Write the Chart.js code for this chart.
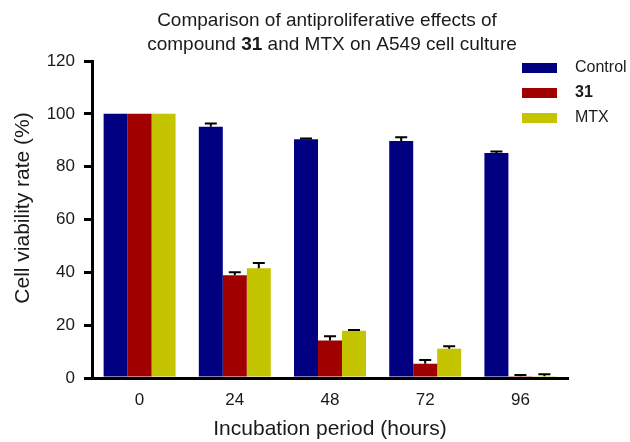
<!DOCTYPE html>
<html>
<head>
<meta charset="utf-8">
<script src="https://cdn.jsdelivr.net/npm/chart.js@4"></script>
<style>
  html, body { margin: 0; padding: 0; background: #fff; }
  #wrap { width: 630px; height: 442px; }
</style>
</head>
<body>
<div id="wrap"><canvas id="viabilityChart" width="630" height="442"></canvas></div>
<script>
// incubation times (hours)
const hours = ['0', '24', '48', '72', '96'];
// cell viability (%) and upper error (SD)
const control = [100, 95.1, 90.4, 89.7, 85.2];
const controlErr = [0, 1.2, 0.3, 1.4, 0.5];
const cmp31 = [100, 38.9, 14.2, 5.4, 0.7];
const cmp31Err = [0, 1.1, 1.6, 1.4, 0.4];
const mtx = [100, 41.5, 17.9, 11.1, 0.7];
const mtxErr = [0, 2.0, 0.3, 0.9, 0.7];
const yTicks = [0, 20, 40, 60, 80, 100, 120];

const FONT = 'Liberation Sans, Arial, sans-serif';
const textColor = '#1a1a1a';

// title + legend with bold "31", y-axis title, and the error bars
const extras = {
    id: 'extras',
    afterDatasetsDraw(chart) {
        const ctx = chart.ctx;
        const yScale = chart.scales.y;
        ctx.save();
        ctx.strokeStyle = '#000';
        ctx.lineWidth = 2;
        chart.data.datasets.forEach((ds, i) => {
            const meta = chart.getDatasetMeta(i);
            meta.data.forEach((bar, j) => {
                const err = ds.errors[j];
                if (!err) return;
                const yTop = yScale.getPixelForValue(ds.data[j] + err);
                const yVal = yScale.getPixelForValue(ds.data[j]);
                ctx.beginPath();
                ctx.moveTo(bar.x, yVal);
                ctx.lineTo(bar.x, yTop);
                ctx.moveTo(bar.x - 6, yTop);
                ctx.lineTo(bar.x + 6, yTop);
                ctx.stroke();
            });
        });
        ctx.restore();
    },
    afterDraw(chart) {
        const ctx = chart.ctx;
        ctx.save();
        ctx.fillStyle = textColor;
        ctx.textBaseline = 'middle';
        const drawRich = (parts, cx, cy, size, align) => {
            let total = 0;
            parts.forEach(p => {
                ctx.font = (p.b ? 'bold ' : '') + size + 'px ' + FONT;
                p.w = ctx.measureText(p.t).width;
                total += p.w;
            });
            let x = align === 'left' ? cx : cx - total / 2;
            ctx.textAlign = 'left';
            parts.forEach(p => {
                ctx.font = (p.b ? 'bold ' : '') + size + 'px ' + FONT;
                ctx.fillText(p.t, x, cy);
                x += p.w;
            });
        };
        // title
        drawRich([{t: 'Comparison of antiproliferative effects of'}], 327, 21, 19);
        drawRich([{t: 'compound '}, {t: '31', b: true}, {t: ' and MTX on A549 cell culture'}], 332, 45, 19);

        // y-axis title
        ctx.save();
        ctx.translate(23, 208);
        ctx.rotate(-Math.PI / 2);
        drawRich([{t: 'Cell viability rate (%)'}], 0, 0, 21);
        ctx.restore();

        // legend
        chart.data.datasets.forEach((ds, i) => {
            const y = 68 + i * 25;
            ctx.fillStyle = ds.backgroundColor;
            ctx.fillRect(522, y - 5, 35, 10);
            ctx.fillStyle = textColor;
            drawRich([{t: ds.label, b: ds.label === '31'}], 575, y, 16, 'left');
        });
        ctx.restore();
    }
};

const ctx = document.getElementById('viabilityChart').getContext('2d');
const myChart = new Chart(ctx, {
    type: 'bar',
    data: {
        labels: hours,
        datasets: [
            { label: 'Control', data: control, errors: controlErr, backgroundColor: '#000080' },
            { label: '31', data: cmp31, errors: cmp31Err, backgroundColor: '#a00000' },
            { label: 'MTX', data: mtx, errors: mtxErr, backgroundColor: '#c4c400' }
        ]
    },
    options: {
        responsive: false,
        animation: false,
        devicePixelRatio: 1,
        layout: { padding: { top: 61, right: 62, left: 0, bottom: 0 } },
        datasets: {
            bar: { categoryPercentage: 0.756, barPercentage: 1.0, borderWidth: 0 }
        },
        scales: {
            x: {
                grid: { display: false },
                border: { display: true, color: '#000', width: 3 },
                ticks: { color: textColor, padding: 4, font: { family: FONT, size: 17 } },
                title: {
                    display: true,
                    text: 'Incubation period (hours)',
                    color: textColor,
                    font: { family: FONT, size: 21 },
                    padding: { top: 0, bottom: 0 }
                },
                afterFit(scale) { scale.height = 64; }
            },
            y: {
                min: 0,
                max: 120,
                afterBuildTicks(scale) { scale.ticks = yTicks.map(v => ({ value: v })); },
                grid: { display: true, drawOnChartArea: false, drawTicks: true, tickLength: 8, color: '#000', lineWidth: 3 },
                border: { display: true, color: '#000', width: 3 },
                ticks: { color: textColor, padding: 9, font: { family: FONT, size: 17 } },
                title: { display: false },
                afterFit(scale) { scale.width = 92; }
            }
        },
        plugins: {
            legend: { display: false },
            title: { display: false },
            tooltip: { enabled: false }
        }
    },
    plugins: [extras]
});
</script>
</body>
</html>
